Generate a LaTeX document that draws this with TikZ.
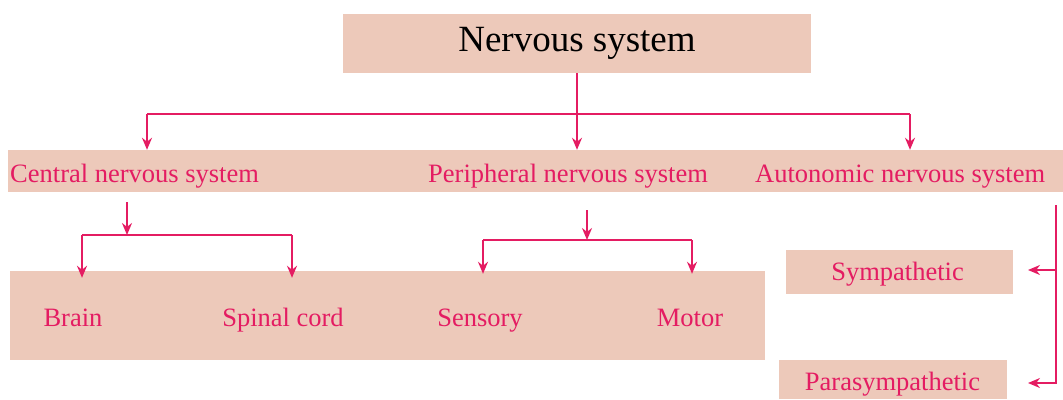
\documentclass[tikz,border=0pt]{standalone}
\usepackage{fontspec}
\setmainfont{Liberation Serif}
\usetikzlibrary{arrows.meta,positioning}
\definecolor{peach}{RGB}{237,201,186}
\definecolor{nervepink}{RGB}{228,28,98}

\begin{document}
\begin{tikzpicture}[x=1pt,y=-1pt,>={Stealth[length=12pt,width=10pt]},
    box/.style={fill=peach, inner sep=0pt},
    lbl/.style={text=nervepink, font=\fontsize{26.5}{30}\selectfont, inner sep=0pt},
    link/.style={draw=nervepink, line width=1.8pt}]
	\useasboundingbox (0,0) rectangle (1063,399);
	% shaded boxes
	\node[box, minimum width=468pt, minimum height=59pt, font=\fontsize{37}{40}\selectfont] (ns) at (577,43.5) {Nervous system};
	\node[box, minimum width=1055pt, minimum height=42pt] (band) at (535.5,171) {};
	\node[box, minimum width=755pt, minimum height=89pt] (cnsbox) at (387.5,315.5) {};
	\node[box, minimum width=227pt, minimum height=44pt] (sympbox) at (899.5,272) {};
	\node[box, minimum width=228pt, minimum height=39pt] (parabox) at (893,379.5) {};
	% labels
	\node[lbl, anchor=base west] (cns) at (10,182) {Central nervous system};
	\node[lbl, anchor=base west] (pns) at (428,182) {Peripheral nervous system};
	\node[lbl, anchor=base west] (ans) at (755,182) {Autonomic nervous system};
	\node[lbl, anchor=base] (brain) at (73,326) {Brain};
	\node[lbl, anchor=base] (cord) at (283,326) {Spinal cord};
	\node[lbl, anchor=base] (sensory) at (480,326) {Sensory};
	\node[lbl, anchor=base] (motor) at (690,326) {Motor};
	\node[lbl, anchor=base] (symp) at (897.5,280) {Sympathetic};
	\node[lbl, anchor=base] (para) at (892.5,390) {Parasympathetic};
	% top split
	\coordinate (lsplit) at (147,114);
	\coordinate (rsplit) at (910,114);
	\draw[link] (lsplit) -- (rsplit);
	\draw[link,->] (ns.south) -- (ns.south |- band.north);
	\draw[link,->] (lsplit) -- (lsplit |- band.north);
	\draw[link,->] (rsplit) -- (rsplit |- band.north);
	% central
	\coordinate (cstem) at (127,202);
	\coordinate (cleft) at (82,235);
	\coordinate (cright) at (292,235);
	\draw[link,->] (cstem) -- (cstem |- cleft);
	\draw[link] (cleft) -- (cright);
	\draw[link,->] (cleft) -- ([yshift=-7pt]cleft |- cnsbox.north);
	\draw[link,->] (cright) -- ([yshift=-7pt]cright |- cnsbox.north);
	% peripheral
	\coordinate (pstem) at (587,210);
	\coordinate (pleft) at (483,240);
	\coordinate (pright) at (692,240);
	\draw[link,->] (pstem) -- (pstem |- pleft);
	\draw[link] (pleft) -- (pright);
	\draw[link,->] (pleft) -- ([yshift=-3pt]pleft |- cnsbox.north);
	\draw[link,->] (pright) -- ([yshift=-3pt]pright |- cnsbox.north);
	% autonomic
	\coordinate (astem) at (1056,205);
	\coordinate (sympend) at (1028,270);
	\coordinate (paraend) at (1028,383);
	\draw[link,->] (astem) |- (sympend);
	\draw[link,->] (astem) |- (paraend);
\end{tikzpicture}
\end{document}
